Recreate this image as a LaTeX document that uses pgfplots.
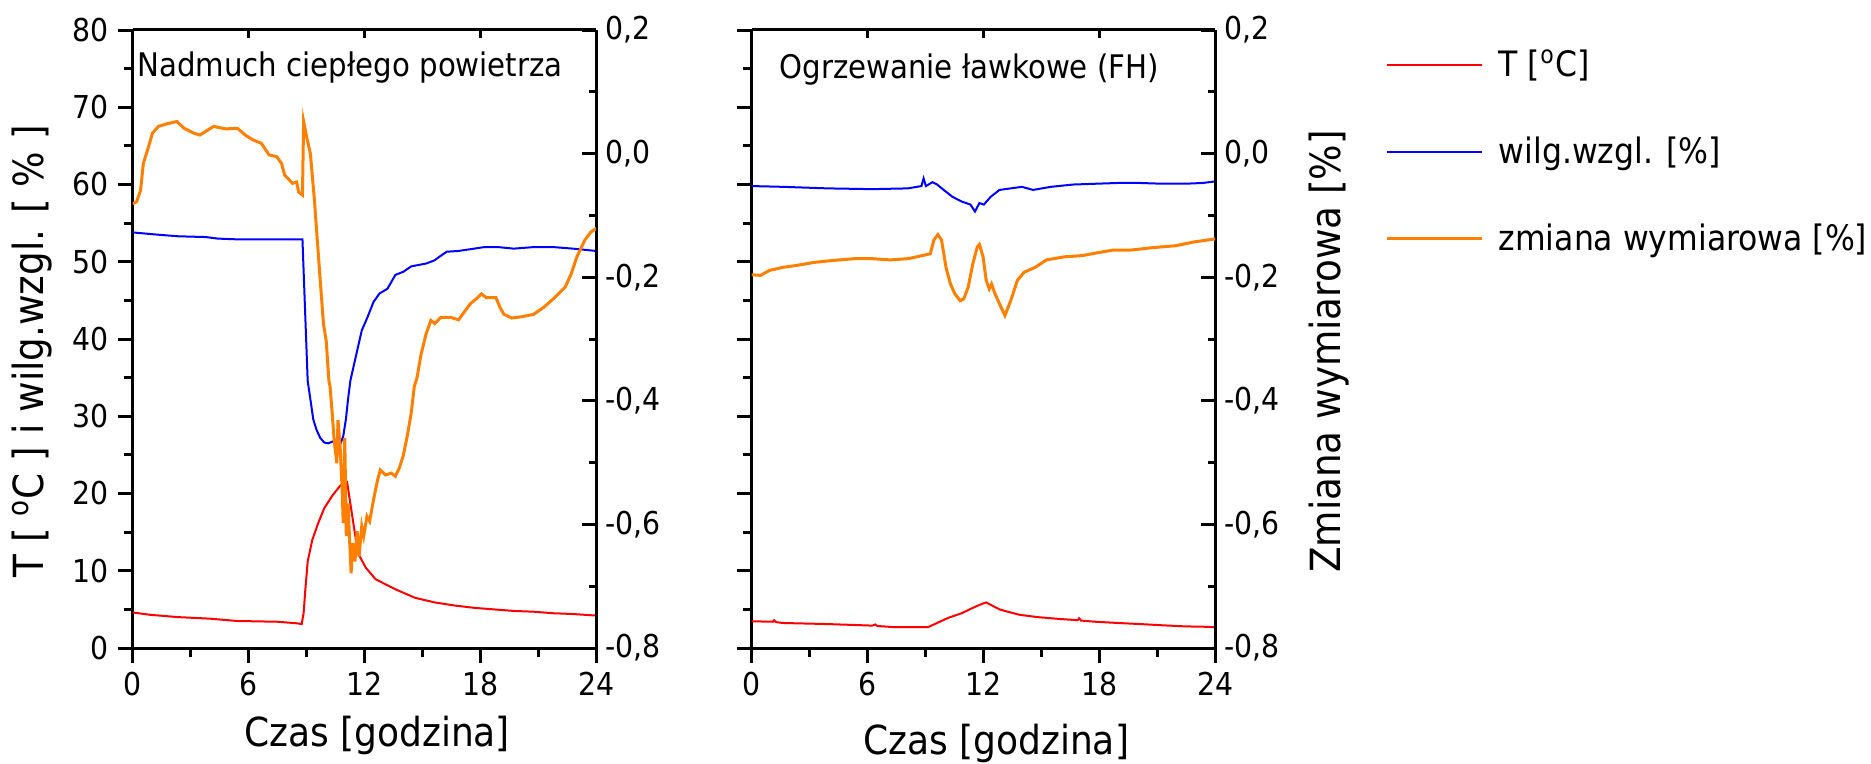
\documentclass[border=0pt]{standalone}
\usepackage{fontspec}
\setmainfont{DejaVu Sans Condensed}
\usepackage{pgfplots}
\usepackage{pgfplotstable}
\pgfplotsset{compat=1.18}

\definecolor{tcol}{RGB}{255,0,0}
\definecolor{rhcol}{RGB}{0,0,255}
\definecolor{dimcol}{RGB}{255,128,0}

% ---------- warm-air heating (left panel) ----------
\pgfplotstableread{
t T
0 4.6
0.9 4.3
2.35 4.0
4.0 3.8
5.4 3.5
7.5 3.4
8.5 3.2
8.75 3.1
8.85 4.5
8.94 7.6
9.06 11.2
9.3 14.0
9.61 16.2
9.92 18.1
10.33 19.7
10.74 21.0
10.94 21.4
11.1 21.5
11.66 12.3
12.07 10.4
12.58 8.9
13.6 7.6
14.62 6.5
15.64 5.9
16.67 5.5
17.69 5.2
18.71 5.0
19.73 4.8
20.76 4.7
21.78 4.5
22.8 4.4
24 4.2
}\airT

\pgfplotstableread{
t RH
0 53.8
1.33 53.5
2.35 53.3
3.78 53.2
4.4 53.0
5.42 52.9
7.46 52.9
8.79 52.9
9.06 34.6
9.2 32.2
9.35 29.6
9.51 28.3
9.71 27.2
9.92 26.6
10.12 26.5
10.43 26.8
10.63 27.0
10.78 26.6
10.9 27.4
11.04 29.6
11.15 32.2
11.27 34.6
11.55 37.7
11.86 41.1
12.17 42.9
12.47 44.8
12.78 45.9
13.19 46.5
13.6 48.3
14.01 48.7
14.42 49.4
14.83 49.6
15.23 49.8
15.64 50.2
15.85 50.6
16.26 51.3
16.87 51.4
17.69 51.7
18.2 51.9
18.92 51.9
19.73 51.7
20.76 51.9
21.78 51.9
22.8 51.7
24 51.4
}\airRH

\pgfplotstableread{
t D
0 -0.081
0.2 -0.078
0.41 -0.059
0.55 -0.016
0.82 0.011
1.02 0.033
1.33 0.044
1.74 0.048
2.29 0.052
2.66 0.041
3.17 0.033
3.48 0.030
3.78 0.036
4.19 0.044
4.81 0.040
5.42 0.041
5.83 0.030
6.24 0.022
6.65 0.017
7.06 -0.002
7.46 -0.005
7.71 -0.016
7.87 -0.035
8.28 -0.048
8.49 -0.046
8.59 -0.062
8.79 -0.067
8.85 0.052
9.0 0.028
9.2 0.0
9.41 -0.075
9.51 -0.119
9.71 -0.205
9.88 -0.276
10.02 -0.303
10.16 -0.368
10.22 -0.377
10.33 -0.42
10.43 -0.463
10.57 -0.501
10.63 -0.431
10.74 -0.474
10.84 -0.539
10.9 -0.598
10.98 -0.460
11.06 -0.619
11.15 -0.566
11.23 -0.625
11.31 -0.679
11.39 -0.630
11.51 -0.660
11.62 -0.611
11.72 -0.652
11.86 -0.603
11.96 -0.619
12.13 -0.587
12.27 -0.595
12.47 -0.560
12.68 -0.528
12.82 -0.512
13.09 -0.520
13.39 -0.517
13.6 -0.522
13.8 -0.509
14.0 -0.490
14.21 -0.458
14.42 -0.420
14.58 -0.377
14.72 -0.363
14.93 -0.325
15.19 -0.292
15.44 -0.270
15.64 -0.275
15.95 -0.265
16.46 -0.265
16.87 -0.269
17.08 -0.260
17.48 -0.243
17.79 -0.235
18.06 -0.227
18.3 -0.233
18.81 -0.233
19.02 -0.249
19.22 -0.260
19.63 -0.266
20.14 -0.264
20.76 -0.260
21.27 -0.249
21.78 -0.235
22.39 -0.216
22.7 -0.195
23.0 -0.167
23.41 -0.140
23.72 -0.127
24 -0.121
}\airD

% ---------- bench heating (right panel) ----------
\pgfplotstableread{
t T
0 3.46
1.1 3.40
1.16 3.6
1.25 3.35
1.62 3.24
3.93 3.1
6.24 2.9
6.4 3.05
6.5 2.85
7.4 2.7
9.13 2.7
9.6 3.24
10.17 3.9
10.87 4.5
11.45 5.2
11.91 5.7
12.14 5.9
12.37 5.6
12.83 5.0
13.18 4.75
13.87 4.3
14.8 4.0
15.95 3.76
16.88 3.6
16.95 3.85
17.05 3.55
17.8 3.4
18.96 3.24
20.12 3.1
21.27 2.94
22.43 2.8
23.5 2.75
24 2.7
}\benchT

\pgfplotstableread{
t RH
0 59.8
1.62 59.7
3.93 59.5
6.24 59.4
8.09 59.5
8.79 59.8
8.9 60.8
9.02 59.8
9.36 60.3
9.6 60.0
9.94 59.3
10.4 58.4
10.87 57.8
11.33 57.4
11.56 56.5
11.79 57.6
12.02 57.4
12.37 58.4
12.83 59.3
13.41 59.5
13.99 59.7
14.57 59.3
15.49 59.7
16.65 60.0
17.8 60.1
18.96 60.2
20.12 60.2
21.27 60.1
22.43 60.1
23.35 60.2
24 60.4
}\benchRH

\pgfplotstableread{
t D
0 -0.196
0.46 -0.197
0.92 -0.189
1.62 -0.184
2.31 -0.181
3.24 -0.176
4.16 -0.173
5.32 -0.170
6.24 -0.170
7.17 -0.172
8.09 -0.170
8.55 -0.167
9.25 -0.162
9.43 -0.140
9.64 -0.131
9.83 -0.140
10.06 -0.184
10.29 -0.211
10.52 -0.227
10.8 -0.238
10.98 -0.235
11.21 -0.216
11.45 -0.178
11.68 -0.151
11.79 -0.147
11.98 -0.167
12.14 -0.205
12.3 -0.219
12.42 -0.211
12.6 -0.227
12.83 -0.243
13.11 -0.262
13.41 -0.238
13.76 -0.205
14.1 -0.192
14.68 -0.184
15.26 -0.172
16.19 -0.167
17.12 -0.165
17.8 -0.161
18.73 -0.156
19.65 -0.156
20.81 -0.152
21.97 -0.149
22.89 -0.143
24 -0.138
}\benchD

\pgfplotsset{
  panel/.style={
    scale only axis, anchor=south west,
    width=185.4pt, height=247.2pt,
    xmin=0, xmax=24,
    axis line style={-, line width=1.2pt, black},
    tick style={line width=1.2pt, black},
    tick label style={font=\fontsize{12.6}{15}\selectfont},
    /pgf/number format/assume math mode=true,
  },
  leftscale/.style={
    panel, ymin=0, ymax=80,
    axis x line=bottom, axis y line=left,
    axis line style={-},
    tick align=outside,
    xtick={0,6,12,18,24}, minor x tick num=1,
    ytick={0,10,20,30,40,50,60,70,80}, minor y tick num=1,
    major tick length=6pt, minor tick length=3.6pt,
    every axis x label/.style={at={(axis description cs:0.5276,-0.141)}, anchor=center, font=\fontsize{16}{19}\selectfont},
  },
  rightscale/.style={
    panel, ymin=-0.8, ymax=0.2,
    axis x line=none, axis y line=right,
    axis line style={-},
    xtick=\empty,
    tick align=inside,
    ytick={-0.8,-0.6,-0.4,-0.2,0,0.2},
    yticklabels={{-0,8},{-0,6},{-0,4},{-0,2},{0,0},{0,2}},
    minor y tick num=1,
    major tick length=5.6pt, minor tick length=2.8pt,
  },
  topticks/.style={
    panel, ymin=0, ymax=1,
    axis x line=top, axis y line=none,
    axis line style={-},
    tick align=inside,
    xtick={6,12,18}, xticklabel=\empty, ytick=\empty,
    major tick length=3.2pt,
  },
}

\begin{document}
\begin{tikzpicture}
\path[use as bounding box] (0pt,0pt) rectangle (748.4pt,-305.2pt);

% ===== left panel =====
\begin{axis}[leftscale, at={(53.08pt,-259.2pt)},
  xlabel={Czas [godzina]},
  ylabel={T [ \textsuperscript{o}C ] i wilg.wzgl. [ \% ]},
  every axis y label/.style={at={(axis description cs:-0.217,0.48)}, rotate=90, anchor=center, font=\fontsize{16.6}{20}\selectfont},
]
\addplot[tcol, line width=0.8pt] table[x=t, y=T] {\airT};
\addplot[rhcol, line width=0.8pt] table[x=t, y=RH] {\airRH};
\node[anchor=base west, inner sep=0pt, font=\fontsize{13}{15}\selectfont] at (rel axis cs:0.0093,0.9244) {Nadmuch ciepłego powietrza};
\end{axis}
\begin{axis}[rightscale, at={(53.08pt,-259.2pt)}]
\addplot[dimcol, line width=1.2pt] table[x=t, y=D] {\airD};
\end{axis}
\begin{axis}[topticks, at={(53.08pt,-259.2pt)}]
\end{axis}

% ===== right panel =====
\begin{axis}[leftscale, at={(300.68pt,-259.2pt)},
  yticklabel=\empty,
  xlabel={Czas [godzina]},
  every axis x label/.style={at={(axis description cs:0.5277,-0.155)}, anchor=center, font=\fontsize{16}{19}\selectfont},
]
\addplot[tcol, line width=0.8pt] table[x=t, y=T] {\benchT};
\addplot[rhcol, line width=0.8pt] table[x=t, y=RH] {\benchRH};
\node[anchor=base west, inner sep=0pt, font=\fontsize{13}{15}\selectfont] at (rel axis cs:0.059,0.922) {Ogrzewanie ławkowe (FH)};
\end{axis}
\begin{axis}[rightscale, at={(300.68pt,-259.2pt)},
  ylabel={Zmiana wymiarowa [\%]},
  every axis y label/.style={at={(axis description cs:1.245,0.48)}, rotate=90, anchor=center, font=\fontsize{16.6}{20}\selectfont},
  legend cell align=left,
  legend image code/.code={\draw[#1] (0pt,0pt) -- (38pt,0pt);},
  legend style={at={(axis description cs:1.368,0.8026)}, anchor=west,
    draw=none, fill=none, inner sep=0pt, outer sep=0pt,
    font=\fontsize{14}{16}\selectfont, row sep=18.5pt,
    /tikz/every odd column/.append style={column sep=4pt}},
]
\addlegendimage{tcol, line width=0.8pt}
\addlegendentry{T [\textsuperscript{o}C]}
\addlegendimage{rhcol, line width=0.8pt}
\addlegendentry{wilg.wzgl. [\%]}
\addplot[dimcol, line width=1.2pt] table[x=t, y=D] {\benchD};
\addlegendentry{zmiana wymiarowa [\%]}
\end{axis}
\begin{axis}[topticks, at={(300.68pt,-259.2pt)}]
\end{axis}
\end{tikzpicture}
\end{document}
